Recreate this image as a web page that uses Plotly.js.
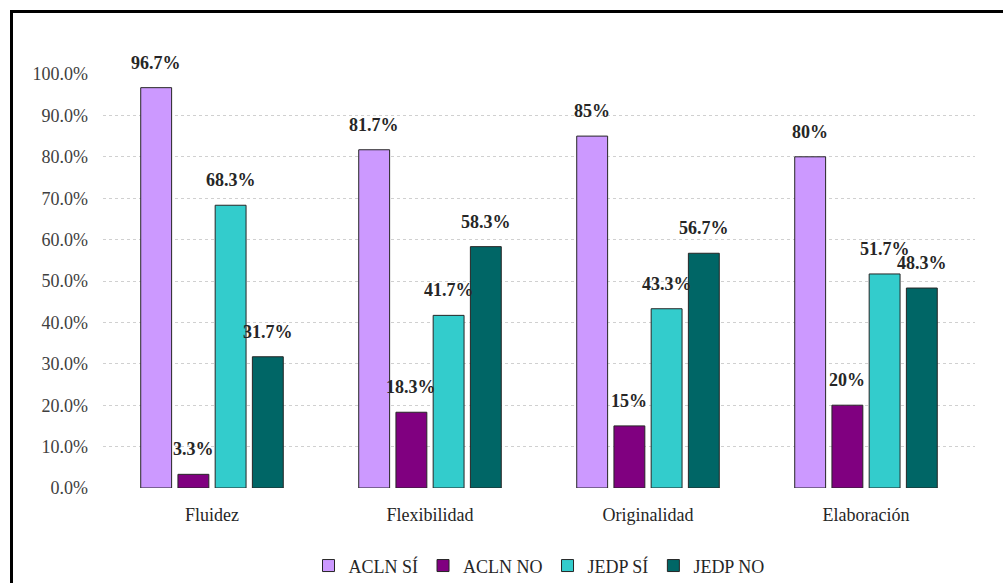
<!DOCTYPE html>
<html>
<head>
<meta charset="utf-8">
<script src="https://cdn.plot.ly/plotly-3.0.1.min.js"></script>
<style>
  body { margin: 0; background: #fff; }
  #wrap { position: relative; width: 1003px; height: 583px; overflow: hidden; }
  #chart { position: absolute; left: 0; top: 0; width: 1003px; height: 583px; }
  #frame { position: absolute; left: 10px; top: 10px; width: 1100px; height: 700px;
           border-top: 3px solid #000; border-left: 3px solid #000; pointer-events: none; }
</style>
</head>
<body>
<div id="wrap"><div id="chart"></div><div id="frame"></div></div>
<script>
const categories = ["Fluidez", "Flexibilidad", "Originalidad", "Elaboración"];
const seriesNames = ["ACLN SÍ", "ACLN NO", "JEDP SÍ", "JEDP NO"];
const aclnSi = [96.7, 81.7, 85, 80];
const aclnNo = [3.3, 18.3, 15, 20];
const jedpSi = [68.3, 41.7, 43.3, 51.7];
const jedpNo = [31.7, 58.3, 56.7, 48.3];
const colors = ["#CC99FF", "#800080", "#33CCCC", "#006666"];
const yTicks = [0, 10, 20, 30, 40, 50, 60, 70, 80, 90, 100];

const SERIF = "Liberation Serif, DejaVu Serif, Times New Roman, serif";
const bargap = 0.317;
const allValues = [aclnSi, aclnNo, jedpSi, jedpNo];
const nSeries = allValues.length;
const slot = (1 - bargap) / nSeries;

const traces = allValues.map((vals, i) => ({
  type: "bar",
  name: seriesNames[i],
  x: categories,
  y: vals,
  marker: { color: colors[i], line: { color: "#262626", width: 1 } },
  hoverinfo: "none"
}));

// value labels above each bar, placed at the bar's slot within its group
const annotations = [];
allValues.forEach((vals, k) => {
  vals.forEach((v, c) => {
    annotations.push({
      xref: "x", yref: "y",
      x: c - (1 - bargap) / 2 + (k + 0.5) * slot,
      y: v,
      text: "<b>" + v + "%</b>",
      showarrow: false,
      yanchor: "bottom",
      yshift: 13,
      font: { family: SERIF, size: 18, color: "#262626" }
    });
  });
});

const layout = {
  width: 1003, height: 583,
  paper_bgcolor: "rgba(0,0,0,0)",
  plot_bgcolor: "rgba(0,0,0,0)",
  margin: { l: 103, r: 28, t: 74, b: 95, autoexpand: false },
  barmode: "group",
  bargap: bargap,
  bargroupgap: 0.17,
  font: { family: SERIF, size: 18, color: "#404040" },
  xaxis: {
    type: "category",
    showgrid: false, zeroline: false, showline: false, ticks: "",
    ticklabelstandoff: 14,
    tickfont: { family: SERIF, size: 18, color: "#262626" }
  },
  yaxis: {
    range: [0, 100],
    tickvals: yTicks,
    ticktext: yTicks.map(v => v.toFixed(1) + "%"),
    showgrid: true, gridcolor: "#d0d0d0", gridwidth: 1, griddash: "dot",
    zeroline: false, showline: false, ticks: "",
    ticklabelstandoff: 14,
    tickfont: { family: SERIF, size: 18, color: "#404040" }
  },
  legend: {
    orientation: "h", x: 0.5, xanchor: "center", y: -0.188, yanchor: "middle",
    font: { family: SERIF, size: 18, color: "#262626" },
    traceorder: "normal", itemwidth: 30
  },
  annotations: annotations,
  showlegend: true
};

Plotly.newPlot("chart", traces, layout, { displayModeBar: false, staticPlot: true });
</script>
</body>
</html>
